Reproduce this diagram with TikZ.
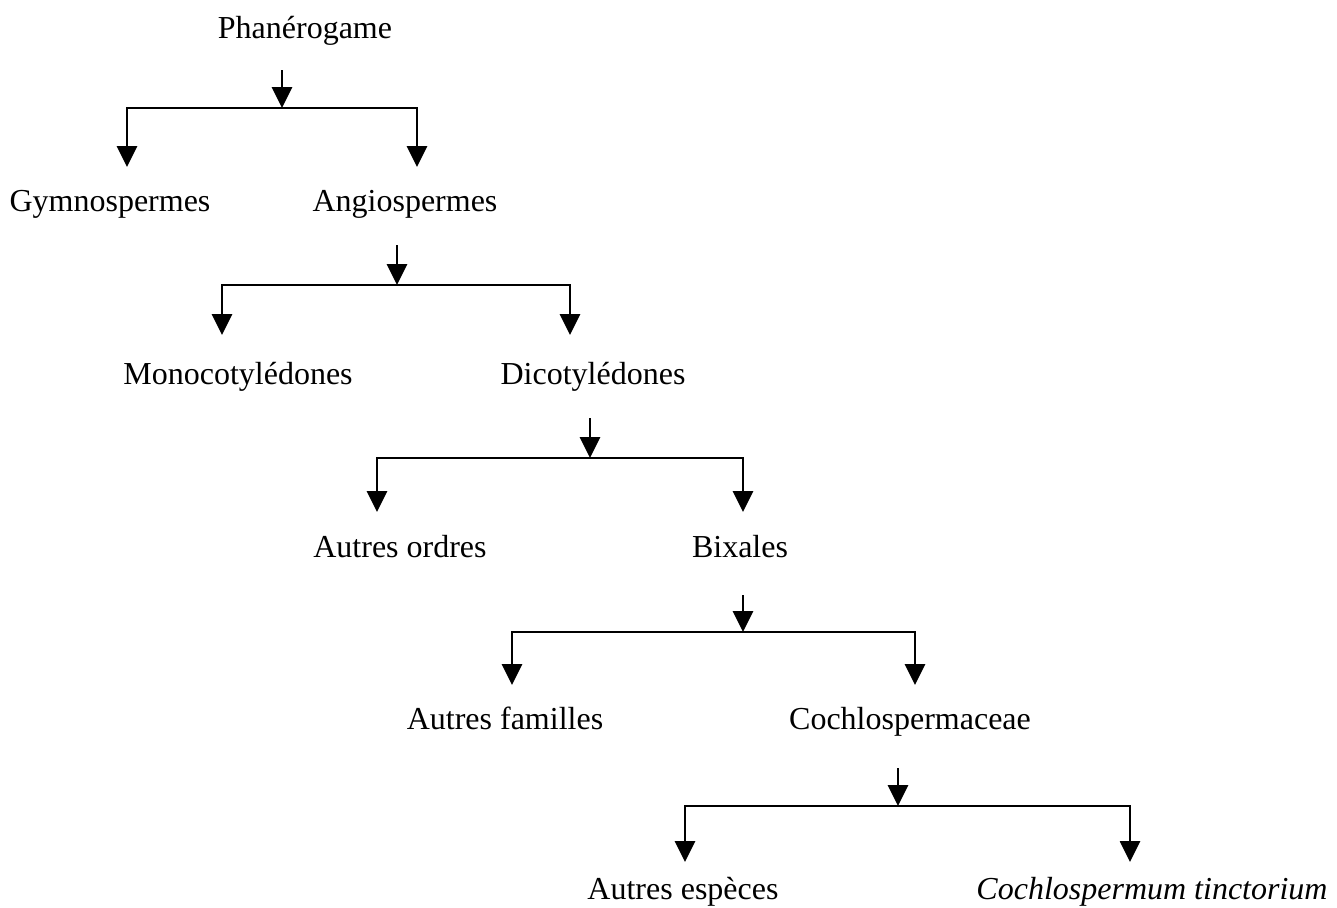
\documentclass[tikz,border=0pt]{standalone}
\usepackage{fontspec}
\setmainfont{Liberation Serif}
\usetikzlibrary{arrows.meta}
\begin{document}
\begin{tikzpicture}[x=1pt,y=-1pt,
  lbl/.style={anchor=base,inner sep=0pt,font=\fontsize{32}{38}\selectfont},
  link/.style={line width=2.8pt,line cap=rect},
  arr/.style={line width=2.8pt,-{Triangle[width=20pt,length=21pt]}}]
\useasboundingbox (0,0) rectangle (1337,907);
% nodes
\node[lbl] (pha) at (305,38) {Phanérogame};
\node[lbl] (gym) at (110,211) {Gymnospermes};
\node[lbl] (ang) at (405,211) {Angiospermes};
\node[lbl] (mon) at (238,384) {Monocotylédones};
\node[lbl] (dic) at (593,384) {Dicotylédones};
\node[lbl] (aor) at (400,557) {Autres ordres};
\node[lbl] (bix) at (740,557) {Bixales};
\node[lbl] (afa) at (505,729) {Autres familles};
\node[lbl] (coc) at (910,729) {Cochlospermaceae};
\node[lbl] (aes) at (683,899) {Autres espèces};
\node[lbl] (cti) at (1152,899) {\itshape Cochlospermum tinctorium};
% level 1
\coordinate (t1) at (282,70);  \coordinate (j1) at (282,108);
\coordinate (l1) at (127,108); \coordinate (r1) at (417,108);
\coordinate (gymT) at (127,167); \coordinate (angT) at (417,167);
% level 2
\coordinate (t2) at (397,245); \coordinate (j2) at (397,285);
\coordinate (l2) at (222,285); \coordinate (r2) at (570,285);
\coordinate (monT) at (222,335); \coordinate (dicT) at (570,335);
% level 3
\coordinate (t3) at (590,418); \coordinate (j3) at (590,458);
\coordinate (l3) at (377,458); \coordinate (r3) at (743,458);
\coordinate (aorT) at (377,512); \coordinate (bixT) at (743,512);
% level 4
\coordinate (t4) at (743,595); \coordinate (j4) at (743,632);
\coordinate (l4) at (512,632); \coordinate (r4) at (915,632);
\coordinate (afaT) at (512,685); \coordinate (cocT) at (915,685);
% level 5
\coordinate (t5) at (898,768); \coordinate (j5) at (898,806);
\coordinate (l5) at (685,806); \coordinate (r5) at (1130,806);
\coordinate (aesT) at (685,862); \coordinate (ctiT) at (1130,862);
% connectors
\foreach \i/\a/\b in {1/gymT/angT,2/monT/dicT,3/aorT/bixT,4/afaT/cocT,5/aesT/ctiT}{
  \draw[link] (l\i) -- (r\i);
  \draw[arr] (t\i) -- (j\i);
  \draw[arr] (l\i) -- (\a);
  \draw[arr] (r\i) -- (\b);
}
\end{tikzpicture}
\end{document}
